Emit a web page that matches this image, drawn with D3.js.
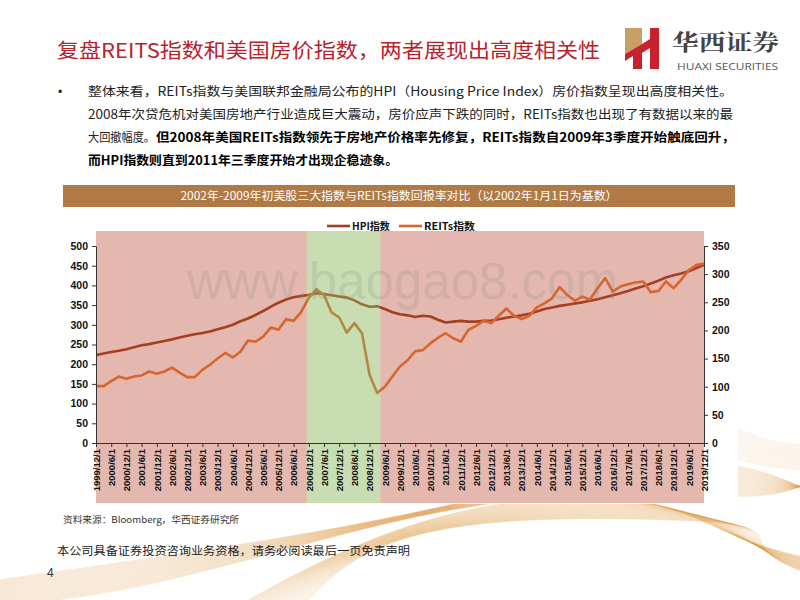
<!DOCTYPE html>
<html><head><meta charset="utf-8">
<script src="https://cdn.jsdelivr.net/npm/d3@7"></script>
<style>
html,body{margin:0;padding:0;background:#fff;}
svg{display:block;}
</style></head>
<body>
<svg id="c" width="800" height="600"></svg>
<script>
// ---------- data ----------
const dates = ["1999/12/1","2000/3/1","2000/6/1","2000/9/1","2000/12/1","2001/3/1","2001/6/1","2001/9/1","2001/12/1",
"2002/3/1","2002/6/1","2002/9/1","2002/12/1","2003/3/1","2003/6/1","2003/9/1","2003/12/1",
"2004/3/1","2004/6/1","2004/9/1","2004/12/1","2005/3/1","2005/6/1","2005/9/1","2005/12/1",
"2006/3/1","2006/6/1","2006/9/1","2006/12/1","2007/3/1","2007/6/1","2007/9/1","2007/12/1",
"2008/3/1","2008/6/1","2008/9/1","2008/12/1","2009/3/1","2009/6/1","2009/9/1","2009/12/1",
"2010/3/1","2010/6/1","2010/9/1","2010/12/1","2011/3/1","2011/6/1","2011/9/1","2011/12/1",
"2012/3/1","2012/6/1","2012/9/1","2012/12/1","2013/3/1","2013/6/1","2013/9/1","2013/12/1",
"2014/3/1","2014/6/1","2014/9/1","2014/12/1","2015/3/1","2015/6/1","2015/9/1","2015/12/1",
"2016/3/1","2016/6/1","2016/9/1","2016/12/1","2017/3/1","2017/6/1","2017/9/1","2017/12/1",
"2018/3/1","2018/6/1","2018/9/1","2018/12/1","2019/3/1","2019/6/1","2019/9/1","2019/12/1"];
const hpi = [223,227,231,234,238,243,248,251,255,259,263,268,272,276,279,283,289,294,300,309,316,325,335,346,356,364,370,373,376,
380,378,375,372,369,362,352,346,347,340,332,327,324,320,323,321,313,306,308,310,308,308,310,311,314,318,321,324,328,334,340,344,348,
351,354,357,361,365,370,375,380,386,392,398,405,412,420,426,430,436,444,452];
const reits = [101,101,110,118,114,118,120,127,123,127,134,125,117,117,130,139,150,160,152,162,182,180,189,205,201,220,217,233,258,
273,263,232,223,196,213,195,121,89,100,118,136,147,163,165,177,187,195,186,180,201,208,217,213,226,239,226,220,226,241,248,257,277,
263,253,260,255,275,293,269,278,282,285,287,268,270,287,275,290,307,316,319];
const tickDates = dates.filter(d => /\/(6|12)\/1$/.test(d));
const leftTicks = [0,50,100,150,200,250,300,350,400,450,500];
const rightTicks = [0,50,100,150,200,250,300,350];
const seriesNames = ["HPI指数","REITs指数"];
const highlightStart = "2006/12/1", highlightEnd = "2009/3/1";

const titleText = "复盘REITS指数和美国房价指数，两者展现出高度相关性";
const bodyLines = [
 "整体来看，REITs指数与美国联邦金融局公布的HPI（Housing Price Index）房价指数呈现出高度相关性。",
 "2008年次贷危机对美国房地产行业造成巨大震动，房价应声下跌的同时，REITs指数也出现了有数据以来的最",
 "大回撤幅度。",
 "但2008年美国REITs指数领先于房地产价格率先修复，REITs指数自2009年3季度开始触底回升，",
 "而HPI指数则直到2011年三季度开始才出现企稳迹象。"
];
const chartTitle = "2002年-2009年初美股三大指数与REITs指数回报率对比（以2002年1月1日为基数）";
const sourceText = "资料来源：Bloomberg，华西证券研究所";
const disclaimer = "本公司具备证券投资咨询业务资格，请务必阅读最后一页免责声明";

// ---------- drawing ----------
const svg = d3.select("#c");
const CJK = "'Noto Sans CJK SC','Noto Sans',sans-serif";
const LAT = "'Liberation Sans',Arial,sans-serif";

// decorative waves
const wg = svg.append("g");
for (let k = 0; k < 40; k++) {
  wg.append("path")
    .attr("d", `M${-20},${606 - k*0.6} C${180},${600 - k*1.2} ${330},${520 + k*0.4} ${520},${500 - k*0.3} S${760},${520 - k*1.4} ${830},${470 + k*0.8}`)
    .attr("fill","none").attr("stroke","#DD9A45").attr("stroke-width",0.8).attr("opacity",0.2);
}
for (let k = 0; k < 36; k++) {
  wg.append("path")
    .attr("d", `M${230 + k*2},${610} C${320 + k},${560 - k*0.5} ${420},${505 + k*0.3} ${560 + k*2},${498 + k*0.6} S${700},${540} ${820},${560 + k*0.5}`)
    .attr("fill","none").attr("stroke","#E09A45").attr("stroke-width",0.9).attr("opacity",0.24);
}
for (let k = 0; k < 25; k++) {
  wg.append("path")
    .attr("d", `M${720},${420 + k*1.5} C${760},${440 + k} ${790},${450 + k} ${830},${440 + k*1.2}`)
    .attr("fill","none").attr("stroke","#E0A050").attr("stroke-width",0.8).attr("opacity",0.15);
}
// white backing behind chart
svg.append("rect").attr("x",60).attr("y",178).attr("width",678).attr("height",326).attr("fill","#fff");

// title
svg.append("text").attr("x",57).attr("y",58).attr("font-family",CJK).attr("font-size",20)
  .attr("fill","#B8232B").attr("textLength",543).attr("lengthAdjust","spacingAndGlyphs").text(titleText);

// logo
const lg = svg.append("g");
lg.append("polygon").attr("points","625,28 642,28 642,44 625,54").attr("fill","#C9A064");
lg.append("polygon").attr("points","625,54 642,44 650,39 650,28 659,28 659,69 650,69 650,48 642,53 642,69 633,69 633,56 625,61").attr("fill","#C8232C");
lg.append("text").attr("x",672).attr("y",50).attr("font-family","'Noto Serif CJK SC','Noto Sans CJK SC',serif").attr("font-weight","bold")
  .attr("font-size",22).attr("fill","#444").attr("textLength",107).attr("lengthAdjust","spacingAndGlyphs").text("华西证券");
lg.append("text").attr("x",677).attr("y",70).attr("font-family","'Open Sans',sans-serif")
  .attr("font-size",9.5).attr("fill","#555").attr("textLength",101).attr("lengthAdjust","spacingAndGlyphs").text("HUAXI SECURITIES");

// body text
svg.append("text").attr("x",58).attr("y",96).attr("font-family",LAT).attr("font-size",12).attr("fill","#222").text("•");
const bt = (x,y,w,t,bold) => svg.append("text").attr("x",x).attr("y",y).attr("font-family",CJK)
  .attr("font-size",12.5).attr("font-weight",bold?"bold":"normal").attr("fill",bold?"#000":"#222")
  .attr("textLength",w).attr("lengthAdjust","spacingAndGlyphs").text(t);
bt(88,96,645,bodyLines[0],false);
bt(88,119,645,bodyLines[1],false);
bt(88,142,67,bodyLines[2],false);
bt(156,142,579,bodyLines[3],true);
bt(88,165,310,bodyLines[4],true);

// chart title bar
svg.append("rect").attr("x",63).attr("y",185).attr("width",672).attr("height",22).attr("fill","#B07A46");
svg.append("text").attr("x",399).attr("y",200).attr("text-anchor","middle").attr("font-family",CJK)
  .attr("font-size",11.5).attr("fill","#fff").attr("textLength",437).attr("lengthAdjust","spacingAndGlyphs").text(chartTitle);

// scales
const x = d3.scalePoint().domain(dates).range([96,704]);
const yL = d3.scaleLinear().domain([0,500]).range([443,246]);
const yR = d3.scaleLinear().domain([0,350]).range([443,246]);
const colors = ["#A63F1F","#D9652E"];

// backgrounds
const gx0 = x(highlightStart) - 2, gx1 = x(highlightEnd) + 3;
svg.append("rect").attr("x",96).attr("y",231).attr("width",608).attr("height",272).attr("fill","#E4B8AE");
svg.append("rect").attr("x",gx0).attr("y",231).attr("width",gx1-gx0).attr("height",272).attr("fill","#fff");

// lines
const lineL = d3.line().x((d,i)=>x(dates[i])).y(d=>yL(d));
const lineR = d3.line().x((d,i)=>x(dates[i])).y(d=>yR(d));
svg.append("path").datum(hpi).attr("d",lineL).attr("fill","none").attr("stroke",colors[0]).attr("stroke-width",2.6).attr("stroke-linejoin","round");
svg.append("path").datum(reits).attr("d",lineR).attr("fill","none").attr("stroke",colors[1]).attr("stroke-width",2.6).attr("stroke-linejoin","round");

// green overlay
svg.append("rect").attr("x",gx0).attr("y",231).attr("width",gx1-gx0).attr("height",272).attr("fill","#85B454").attr("opacity",0.45);

// watermark
svg.append("text").attr("x",187).attr("y",299).attr("font-family",LAT).attr("font-size",51)
  .attr("fill","#8a8a8a").attr("opacity",0.2).text("www.baogao8.com");

// axes
const styleAxis = g => { g.selectAll("path,line").attr("stroke","#333"); g.selectAll("text").attr("fill","#111").attr("font-family",LAT); };
svg.append("g").attr("transform","translate(96,0)")
  .call(d3.axisLeft(yL).tickValues(leftTicks).tickSize(4).tickSizeOuter(0).tickPadding(4))
  .call(styleAxis).call(g=>g.selectAll("text").attr("font-size",10.5).attr("font-weight","bold"));
svg.append("g").attr("transform","translate(704,0)")
  .call(d3.axisRight(yR).tickValues(rightTicks).tickSize(4).tickSizeOuter(0).tickPadding(4))
  .call(styleAxis).call(g=>g.selectAll("text").attr("font-size",10.5).attr("font-weight","bold"));
svg.append("g").attr("transform","translate(0,443)")
  .call(d3.axisBottom(x).tickValues(tickDates).tickSize(4).tickSizeOuter(0))
  .call(styleAxis)
  .call(g=>g.selectAll("text").attr("font-size",9.5).attr("font-weight","bold")
     .attr("transform","rotate(-90)").attr("x",-6).attr("y",0).attr("dy","0.35em").style("text-anchor","end"));

// legend
const leg = [{x:327,tx:352,w:38},{x:399,tx:424,w:51}];
leg.forEach((l,i)=>{
  svg.append("line").attr("x1",l.x).attr("x2",l.x+23).attr("y1",226).attr("y2",226).attr("stroke",colors[i]).attr("stroke-width",2.6);
  svg.append("text").attr("x",l.tx).attr("y",230).attr("font-family",CJK).attr("font-size",10).attr("font-weight","bold")
    .attr("fill","#111").attr("textLength",l.w).attr("lengthAdjust","spacingAndGlyphs").text(seriesNames[i]);
});

// footer
svg.append("text").attr("x",63).attr("y",523).attr("font-family",CJK).attr("font-size",9).attr("fill","#333")
  .attr("textLength",176).attr("lengthAdjust","spacingAndGlyphs").text(sourceText);
svg.append("text").attr("x",57).attr("y",555).attr("font-family",CJK).attr("font-size",11).attr("fill","#222")
  .attr("textLength",353).attr("lengthAdjust","spacingAndGlyphs").text(disclaimer);
svg.append("text").attr("x",47).attr("y",577).attr("font-family",LAT).attr("font-size",12).attr("fill","#333").text("4");
</script>
</body></html>
